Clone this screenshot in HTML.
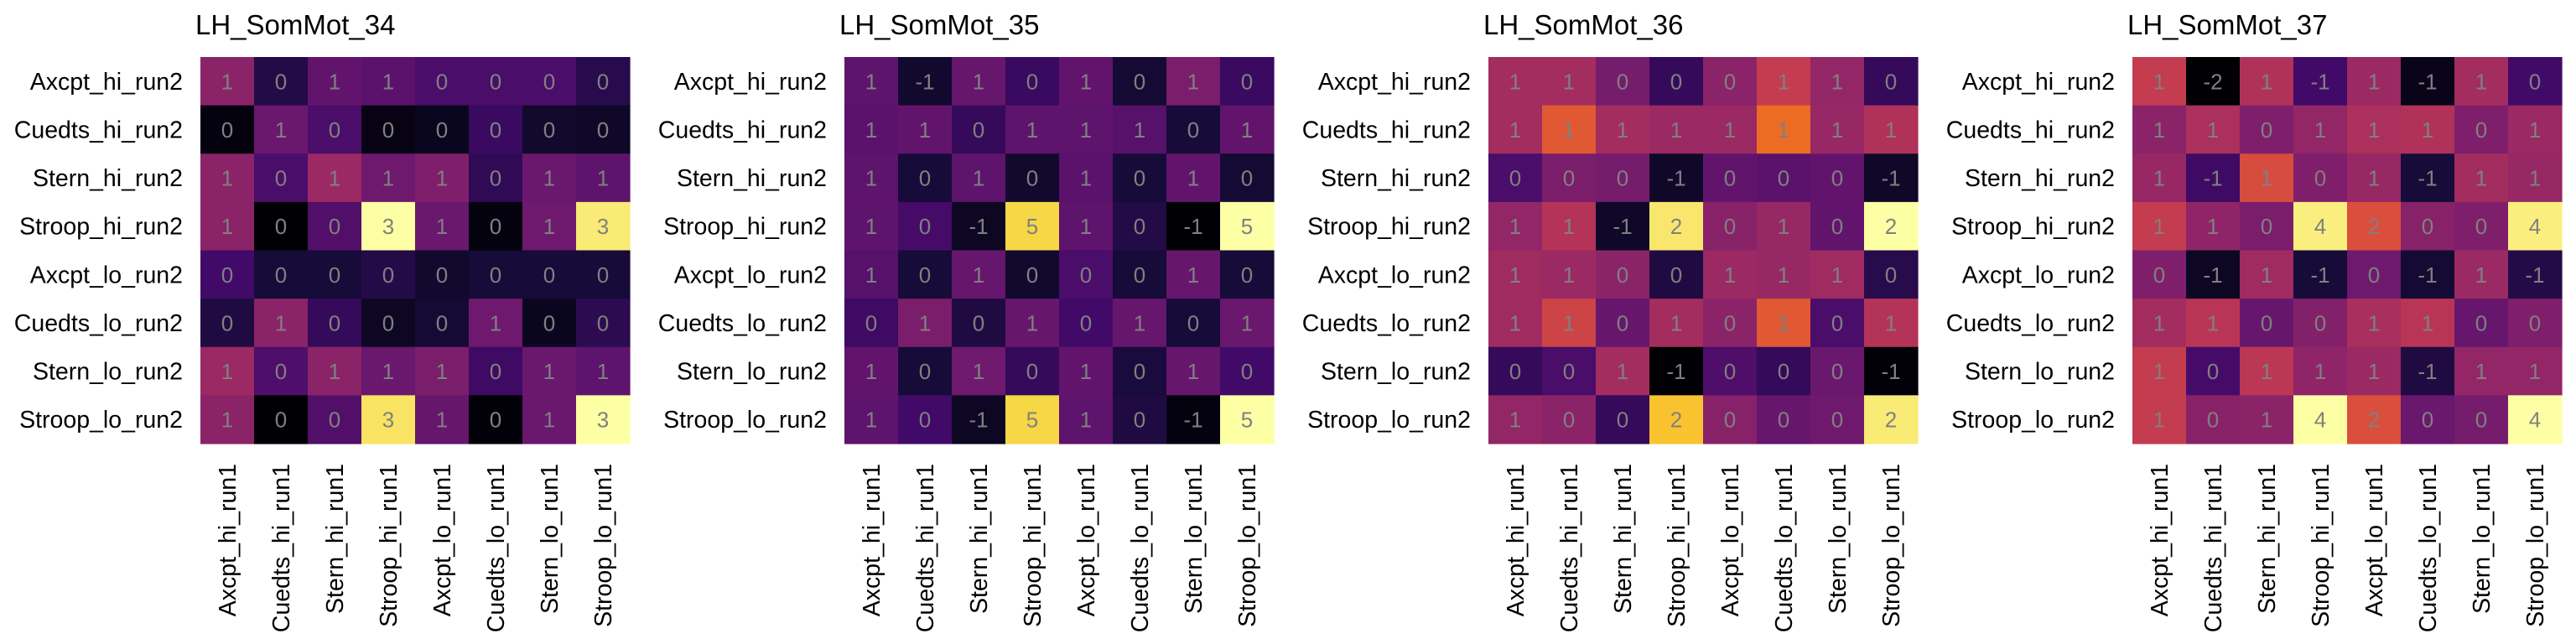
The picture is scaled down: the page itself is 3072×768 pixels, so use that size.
<!DOCTYPE html>
<html><head><meta charset="utf-8"><style>
html,body{margin:0;padding:0;background:#fff;}
svg{display:block;font-family:"Liberation Sans",Arial,sans-serif;}
</style></head><body>
<svg id="chart" width="3072" height="768" viewBox="0 0 3072 768" xmlns="http://www.w3.org/2000/svg"></svg>
<script>
const titles = ["LH_SomMot_34","LH_SomMot_35","LH_SomMot_36","LH_SomMot_37"];
const rowLabels = ["Axcpt_hi_run2","Cuedts_hi_run2","Stern_hi_run2","Stroop_hi_run2","Axcpt_lo_run2","Cuedts_lo_run2","Stern_lo_run2","Stroop_lo_run2"];
const colLabels = ["Axcpt_hi_run1","Cuedts_hi_run1","Stern_hi_run1","Stroop_hi_run1","Axcpt_lo_run1","Cuedts_lo_run1","Stern_lo_run1","Stroop_lo_run1"];
// colour intensities (normalised per panel, 0..1)
const values34 = [
[0.38,0.13,0.28,0.26,0.22,0.22,0.22,0.14],
[0.02,0.30,0.22,0.03,0.05,0.18,0.08,0.07],
[0.38,0.22,0.42,0.31,0.35,0.16,0.30,0.27],
[0.38,0.00,0.24,1.00,0.30,0.02,0.31,0.95],
[0.20,0.10,0.10,0.13,0.08,0.10,0.10,0.10],
[0.12,0.38,0.17,0.06,0.09,0.31,0.05,0.15],
[0.42,0.23,0.38,0.30,0.34,0.19,0.30,0.27],
[0.38,0.00,0.24,0.93,0.29,0.01,0.30,1.00]];
const values35 = [
[0.27,0.08,0.29,0.18,0.28,0.09,0.34,0.18],
[0.26,0.28,0.17,0.27,0.27,0.25,0.10,0.28],
[0.27,0.10,0.27,0.08,0.26,0.10,0.28,0.09],
[0.27,0.21,0.06,0.90,0.27,0.13,0.00,1.00],
[0.25,0.10,0.29,0.08,0.22,0.10,0.29,0.10],
[0.19,0.34,0.12,0.29,0.20,0.29,0.10,0.30],
[0.28,0.10,0.31,0.17,0.28,0.11,0.29,0.20],
[0.27,0.20,0.06,0.90,0.27,0.12,0.02,1.00]];
const values36 = [
[0.44,0.44,0.33,0.17,0.38,0.52,0.40,0.17],
[0.44,0.62,0.44,0.42,0.42,0.67,0.41,0.47],
[0.22,0.34,0.33,0.07,0.28,0.26,0.28,0.07],
[0.40,0.48,0.07,0.94,0.37,0.41,0.28,1.00],
[0.43,0.42,0.38,0.12,0.42,0.41,0.43,0.14],
[0.43,0.55,0.29,0.44,0.38,0.62,0.22,0.48],
[0.17,0.22,0.44,0.00,0.23,0.17,0.30,0.01],
[0.40,0.38,0.17,0.86,0.37,0.29,0.31,0.95]];
const values37 = [
[0.52,0.00,0.47,0.20,0.42,0.04,0.44,0.20],
[0.38,0.46,0.35,0.40,0.46,0.47,0.35,0.42],
[0.41,0.19,0.58,0.35,0.41,0.10,0.44,0.41],
[0.52,0.39,0.34,0.96,0.59,0.37,0.35,0.96],
[0.35,0.06,0.43,0.10,0.31,0.09,0.42,0.13],
[0.44,0.49,0.29,0.36,0.45,0.49,0.29,0.35],
[0.52,0.21,0.50,0.39,0.42,0.12,0.40,0.40],
[0.52,0.37,0.38,1.00,0.59,0.30,0.33,1.00]];
// printed annotations
const labels34 = [
[1,0,1,1,0,0,0,0],[0,1,0,0,0,0,0,0],[1,0,1,1,1,0,1,1],[1,0,0,3,1,0,1,3],
[0,0,0,0,0,0,0,0],[0,1,0,0,0,1,0,0],[1,0,1,1,1,0,1,1],[1,0,0,3,1,0,1,3]];
const labels35 = [
[1,-1,1,0,1,0,1,0],[1,1,0,1,1,1,0,1],[1,0,1,0,1,0,1,0],[1,0,-1,5,1,0,-1,5],
[1,0,1,0,0,0,1,0],[0,1,0,1,0,1,0,1],[1,0,1,0,1,0,1,0],[1,0,-1,5,1,0,-1,5]];
const labels36 = [
[1,1,0,0,0,1,1,0],[1,1,1,1,1,1,1,1],[0,0,0,-1,0,0,0,-1],[1,1,-1,2,0,1,0,2],
[1,1,0,0,1,1,1,0],[1,1,0,1,0,1,0,1],[0,0,1,-1,0,0,0,-1],[1,0,0,2,0,0,0,2]];
const labels37 = [
[1,-2,1,-1,1,-1,1,0],[1,1,0,1,1,1,0,1],[1,-1,1,0,1,-1,1,1],[1,1,0,4,2,0,0,4],
[0,-1,1,-1,0,-1,1,-1],[1,1,0,0,1,1,0,0],[1,0,1,1,1,-1,1,1],[1,0,1,4,2,0,0,4]];
const panelValues = [values34, values35, values36, values37];
const panelLabels = [labels34, labels35, labels36, labels37];

const stops = ["#000004","#160b39","#420a68","#6a176e","#932667","#bc3754","#dd513a","#f37819","#fca50a","#f6d746","#fcffa4"];
function hex(h){return [1,3,5].map(i=>parseInt(h.substr(i,2),16));}
function inferno(t){
  t=Math.max(0,Math.min(1,t));
  const p=t*(stops.length-1), i=Math.min(Math.floor(p),stops.length-2), f=p-i;
  const a=hex(stops[i]), b=hex(stops[i+1]);
  return "rgb("+a.map((v,k)=>Math.round(v+(b[k]-v)*f)).join(",")+")";
}
const NS="http://www.w3.org/2000/svg";
const svg=document.getElementById("chart");
function el(tag,attrs,parent){const e=document.createElementNS(NS,tag);for(const k in attrs)e.setAttribute(k,attrs[k]);(parent||svg).appendChild(e);return e;}

const panelX0=239, panelStep=768, gridTop=68, gridW=512, gridH=461;
const cw=gridW/colLabels.length, ch=gridH/rowLabels.length;
function xScale(p,c){return panelX0+p*panelStep+c*cw;}
function yScale(r){return gridTop+r*ch;}

panelValues.forEach((vals,p)=>{
  const g=el("g",{});
  
  
  const t=el("text",{x:xScale(p,0)-6,y:41,"font-size":33,fill:"#000"},g);
  t.textContent=titles[p];
  
  
  vals.forEach((row,r)=>{
    row.forEach((v,c)=>{
      const x=xScale(p,c), y=yScale(r);
      const rc=el("rect",{x:x,y:y,width:cw+0.6,height:ch+0.6,fill:inferno(v)},g);
      
      
      const tx=el("text",{x:x+cw/2,y:y+ch/2+9.5,"font-size":26,fill:"#808080","text-anchor":"middle"},g);
      tx.textContent=String(panelLabels[p][r][c]);
      
      
    });
  });
  rowLabels.forEach((lab,r)=>{
    const tl=el("text",{x:xScale(p,0)-21,y:yScale(r)+ch/2+10,"font-size":28.5,fill:"#000","text-anchor":"end"},g);
    tl.textContent=lab;
    
    
  });
  colLabels.forEach((lab,c)=>{
    const cx=xScale(p,c)+cw/2+10, cy=553;
    const tl=el("text",{x:cx,y:cy,"font-size":28.5,fill:"#000","text-anchor":"end",transform:"rotate(-90 "+cx+" "+cy+")"},g);
    tl.textContent=lab;
    
    
  });
});
</script>
</body></html>
